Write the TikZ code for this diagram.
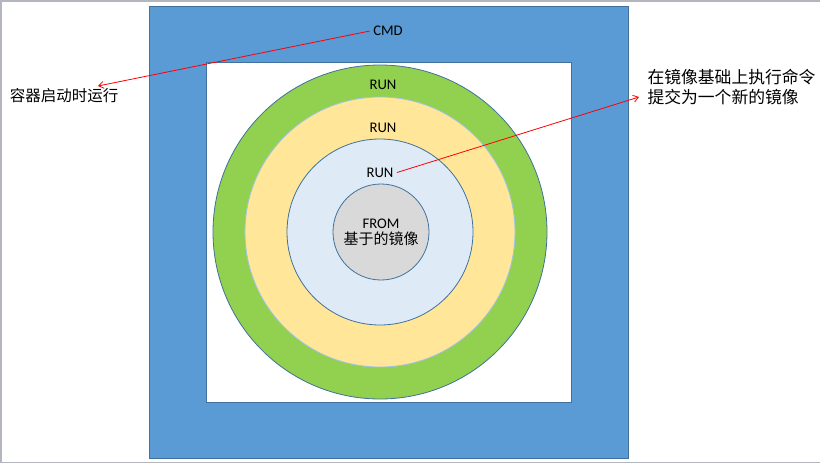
\documentclass[tikz,border=0pt]{standalone}
\usepackage{fontspec}
\setmainfont{Carlito}
\newfontfamily\cjk{Noto Sans CJK SC}
\usetikzlibrary{arrows.meta}
\definecolor{hostblue}{HTML}{5B9BD5}
\definecolor{edgeblue}{HTML}{41719C}
\definecolor{rungreen}{HTML}{92D050}
\definecolor{runyellow}{HTML}{FFE699}
\definecolor{runpale}{HTML}{DEEBF7}
\definecolor{basegrey}{HTML}{D9D9D9}
\definecolor{softedge}{HTML}{9DC3E6}
\definecolor{framegrey}{HTML}{B4B6BE}

\begin{document}
\begin{tikzpicture}[x=1pt,y=-1pt,
    layer/.style={circle, draw=edgeblue, line width=0.8pt, inner sep=0pt},
    lbl/.style={font=\fontsize{14.7}{17}\selectfont},
    note/.style={font=\cjk\fontsize{15.5}{20}\selectfont},
    callout/.style={draw=red, line width=0.8pt, -{Straight Barb[length=5pt,width=7pt]}}
  ]
  \useasboundingbox (0,0) rectangle (820,464);
  % screenshot frame
  \draw[framegrey, line width=1.5pt] (820,1) -- (0.75,1) -- (0.75,462.5) -- (820,462.5);

  % container / image boxes
  \draw[fill=hostblue, draw=edgeblue, line width=0.8pt] (149,6) rectangle (628,458);
  \draw[fill=white, draw=edgeblue, line width=0.8pt] (206.5,62) rectangle (571,402);

  % layers
  \node[layer, fill=rungreen, minimum size=334] (ring1) at (380,232) {};
  \node[layer, fill=runyellow, draw=softedge, minimum size=270] (ring2) at (380,232) {};
  \node[layer, fill=runpale, minimum size=186] (ring3) at (380,232) {};
  \node[layer, fill=basegrey, minimum size=96, align=center, lbl] (base) at (381,232)
    {FROM\\[-1pt]{\cjk\fontsize{15}{17}\selectfont 基于的镜像}};

  \node[lbl] (cmd) at (388,31) {CMD};
  \node[lbl] (run1) at (383,85) {RUN};
  \node[lbl] (run2) at (383,127.5) {RUN};
  \node[lbl] (run3) at (380,172.5) {RUN};

  % notes
  \node[note] (startnote) at (64,96) {容器启动时运行};
  \node[note, anchor=west, align=left, font=\cjk\fontsize{16.8}{20}\selectfont] (commitnote) at (644,87)
    {在镜像基础上执行命令\\提交为一个新的镜像};
  \coordinate (starttip) at (98,86);
  \coordinate (committip) at (639,97);

  \draw[callout] (cmd.west) -- (starttip);
  \draw[callout] (run3.east) -- (committip);
\end{tikzpicture}
\end{document}
